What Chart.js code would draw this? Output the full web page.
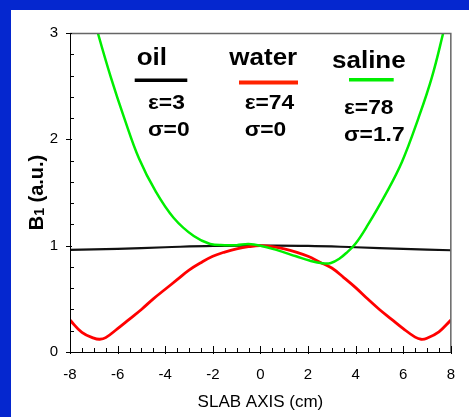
<!DOCTYPE html>
<html>
<head>
<meta charset="utf-8">
<script src="https://cdn.jsdelivr.net/npm/chart.js@4.4.0/dist/chart.umd.min.js"></script>
<style>
  html, body { margin: 0; padding: 0; background: #0527cf; }
  canvas { display: block; }
</style>
</head>
<body>
<canvas id="myChart" width="469" height="417"></canvas>
<script>
// slab position (cm) and B1 values
const oilX = [-8, -6, -4, -2, 0, 2, 4, 6, 8];
const oilY = [0.96, 0.97, 0.985, 0.998, 1.0, 0.998, 0.985, 0.97, 0.957];

const waterX = [-8, -7.5, -7, -6.75, -6.5, -6, -5.5, -5, -4.5, -4, -3.5, -3, -2.5, -2, -1.5, -1, -0.5, 0,
                0.5, 1, 1.5, 2, 2.5, 3, 3.5, 4, 4.5, 5, 5.5, 6, 6.5, 6.75, 7, 7.5, 8];
const waterY = [0.30, 0.185, 0.13, 0.12, 0.135, 0.22, 0.31, 0.40, 0.50, 0.59, 0.68, 0.77, 0.84, 0.90, 0.94, 0.97, 0.99, 1.0,
                0.99, 0.97, 0.94, 0.90, 0.845, 0.79, 0.70, 0.605, 0.50, 0.40, 0.31, 0.22, 0.14, 0.12, 0.13, 0.19, 0.30];

const salineX = [-8, -7.5, -6.83, -6.28, -5.72, -5.1, -4.4, -3.64, -2.8, -2.11, -1.5, -1, -0.5, 0,
                 0.67, 1.5, 2.06, 2.61, 2.96, 3.3, 3.65, 4.0, 4.5, 5.25, 5.95, 6.64, 7.2, 7.68, 8];
const salineY = [4.0, 3.55, 3.0, 2.58, 2.2, 1.82, 1.51, 1.26, 1.09, 1.016, 1.005, 1.005, 1.015, 1.0,
                 0.96, 0.90, 0.86, 0.834, 0.837, 0.875, 0.94, 1.02, 1.19, 1.48, 1.79, 2.2, 2.58, 3.0, 3.3];

const xTicksMajor = [-8, -6, -4, -2, 0, 2, 4, 6, 8];
const yTicksMajor = [0, 1, 2, 3];

const FONT = "'Liberation Sans', Arial, sans-serif";

function toPoints(xs, ys) {
    return xs.map((x, i) => ({ x: x, y: ys[i] }));
}

const framePlugin = {
    id: 'frame',
    beforeDraw(chart) {
        const ctx = chart.ctx;
        ctx.save();
        ctx.fillStyle = '#0527cf';
        ctx.fillRect(0, 0, chart.width, chart.height);
        ctx.fillStyle = '#ffffff';
        ctx.fillRect(11, 10, chart.width - 11, chart.height - 10);
        ctx.restore();
    },
    afterDraw(chart) {
        const ctx = chart.ctx;
        const a = chart.chartArea;
        const sx = chart.scales.x;
        const sy = chart.scales.y;
        ctx.save();

        // grey top + right border
        ctx.strokeStyle = '#666';
        ctx.lineWidth = 1.5;
        ctx.beginPath();
        ctx.moveTo(a.left, a.top + 0.5);
        ctx.lineTo(a.right, a.top + 0.5);
        ctx.lineTo(a.right, a.bottom);
        ctx.stroke();

        // black axes
        ctx.strokeStyle = '#000';
        ctx.lineWidth = 1;
        ctx.beginPath();
        ctx.moveTo(a.left + 0.5, a.top);
        ctx.lineTo(a.left + 0.5, a.bottom + 0.5);
        ctx.lineTo(a.right, a.bottom + 0.5);
        ctx.stroke();

        // x ticks
        ctx.beginPath();
        for (let v = -8; v <= 8.001; v += 0.5) {
            const px = Math.round(sx.getPixelForValue(v)) + 0.5;
            const major = xTicksMajor.includes(v);
            ctx.moveTo(px, a.bottom + (major ? 2 : 0));
            ctx.lineTo(px, a.bottom - (major ? 6 : 4));
        }
        // y ticks
        for (let v = 0; v <= 3.001; v += 0.2) {
            const val = Math.round(v * 10) / 10;
            const py = Math.round(sy.getPixelForValue(val)) + 0.5;
            const major = yTicksMajor.includes(val);
            if (major) {
                ctx.moveTo(a.left - 4, py);
                ctx.lineTo(a.left + 2, py);
            } else {
                ctx.moveTo(a.left, py);
                ctx.lineTo(a.left + 4, py);
            }
        }
        ctx.stroke();

        // axis titles
        ctx.fillStyle = '#000';
        ctx.font = '17px ' + FONT;
        ctx.textAlign = 'center';
        ctx.textBaseline = 'alphabetic';
        ctx.fillText('SLAB AXIS (cm)', (a.left + a.right) / 2, 407);

        ctx.translate(35, 192.5);
        ctx.rotate(-Math.PI / 2);
        ctx.textAlign = 'left';
        ctx.font = 'bold 20px ' + FONT;
        const wB = ctx.measureText('B').width;
        const wRest = ctx.measureText(' (a.u.)').width;
        ctx.font = 'bold 14px ' + FONT;
        const w1 = ctx.measureText('1').width;
        let start = -(wB + w1 + wRest) / 2;
        ctx.font = 'bold 20px ' + FONT;
        ctx.fillText('B', start, 7.5);
        ctx.font = 'bold 14px ' + FONT;
        ctx.fillText('1', start + wB, 9);
        ctx.font = 'bold 20px ' + FONT;
        ctx.fillText(' (a.u.)', start + wB + w1, 7.5);
        ctx.restore();
    }
};

// labels inside the plot: name, colour swatch, permittivity and conductivity
const labelNames = ['oil', 'water', 'saline'];
const labelEps = ['\u03b5=3', '\u03b5=74', '\u03b5=78'];
const labelSigma = ['\u03c3=0', '\u03c3=0', '\u03c3=1.7'];
const labelColors = ['#000000', '#ff2200', '#00ee00'];

const notesPlugin = {
    id: 'notes',
    afterDraw(chart) {
        const ctx = chart.ctx;
        const nameX = [136.7, 229.3, 332];
        const nameY = [64.5, 64.5, 67.5];
        const lineX = [[134.7, 187.3], [239, 298], [349, 393.7]];
        const lineY = [80.3, 82.5, 79.7];
        const lineW = [3.5, 4, 3.5];
        const epsX = [148, 244.7, 344];
        const epsY = [109, 109, 114];
        const sigY = [136.3, 136.3, 141.3];

        function stretched(text, x, y, font, s) {
            ctx.save();
            ctx.font = font;
            ctx.translate(x, y);
            ctx.scale(s, 1);
            ctx.fillText(text, 0, 0);
            ctx.restore();
        }

        ctx.save();
        ctx.fillStyle = '#000';
        ctx.textAlign = 'left';
        ctx.textBaseline = 'alphabetic';
        for (let i = 0; i < 3; i++) {
            stretched(labelNames[i], nameX[i], nameY[i], 'bold 23px ' + FONT, 1.13);
            stretched(labelEps[i], epsX[i], epsY[i], 'bold 20px ' + FONT, 1.14);
            stretched(labelSigma[i], epsX[i], sigY[i], 'bold 20px ' + FONT, 1.14);
            ctx.strokeStyle = labelColors[i];
            ctx.lineWidth = lineW[i];
            ctx.beginPath();
            ctx.moveTo(lineX[i][0], lineY[i]);
            ctx.lineTo(lineX[i][1], lineY[i]);
            ctx.stroke();
        }
        ctx.restore();
    }
};

const ctx = document.getElementById('myChart').getContext('2d');
new Chart(ctx, {
    type: 'line',
    data: {
        datasets: [
            {
                label: 'saline',
                data: toPoints(salineX, salineY),
                borderColor: '#00ee00',
                borderWidth: 2.5,
                tension: 0.4,
                order: 0
            },
            {
                label: 'water',
                data: toPoints(waterX, waterY),
                borderColor: '#ff0000',
                borderWidth: 2.8,
                tension: 0.4,
                order: 1
            },
            {
                label: 'oil',
                data: toPoints(oilX, oilY),
                borderColor: '#111111',
                borderWidth: 2.2,
                tension: 0.4,
                order: 2
            }
        ]
    },
    options: {
        responsive: false,
        animation: false,
        devicePixelRatio: 1,
        layout: { padding: { left: 0, right: 15, top: 33, bottom: 0 } },
        elements: { point: { radius: 0 } },
        plugins: {
            legend: { display: false },
            tooltip: { enabled: false }
        },
        scales: {
            x: {
                type: 'linear',
                min: -8,
                max: 8,
                grid: { display: false, drawTicks: false },
                border: { display: false },
                ticks: {
                    stepSize: 2,
                    color: '#000',
                    padding: 14,
                    maxRotation: 0,
                    font: { family: FONT, size: 15 }
                },
                afterFit(scale) { scale.height = 65; }
            },
            y: {
                type: 'linear',
                min: 0,
                max: 3,
                grid: { display: false, drawTicks: false },
                border: { display: false },
                ticks: {
                    stepSize: 1,
                    color: '#000',
                    padding: 12,
                    font: { family: FONT, size: 15 }
                },
                afterFit(scale) { scale.width = 70; }
            }
        }
    },
    plugins: [framePlugin, notesPlugin]
});
</script>
</body>
</html>
